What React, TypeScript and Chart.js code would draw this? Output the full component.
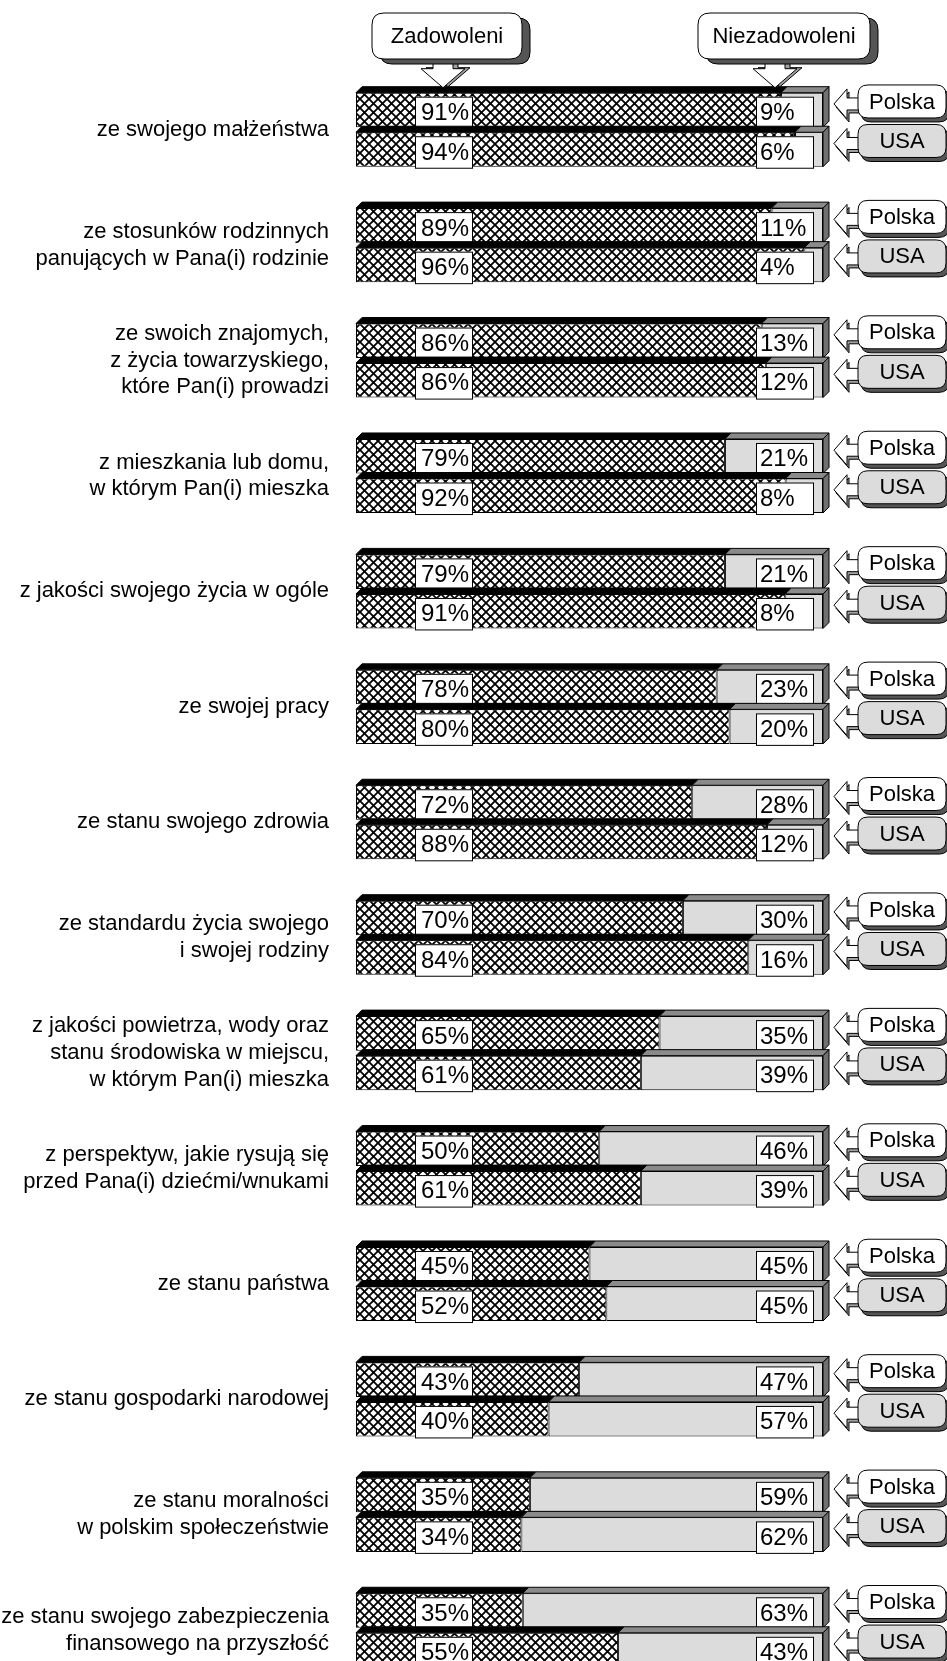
import { useEffect, useRef } from 'react';
import { Chart, registerables } from 'chart.js';

Chart.register(...registerables);

const categories: (string | string[])[] = [
  'ze swojego małżeństwa',
  ['ze stosunków rodzinnych', 'panujących w Pana(i) rodzinie'],
  ['ze swoich znajomych,', 'z życia towarzyskiego,', 'które Pan(i) prowadzi'],
  ['z mieszkania lub domu,', 'w którym Pan(i) mieszka'],
  'z jakości swojego życia w ogóle',
  'ze swojej pracy',
  'ze stanu swojego zdrowia',
  ['ze standardu życia swojego', 'i swojej rodziny'],
  ['z jakości powietrza, wody oraz', 'stanu środowiska w miejscu,', 'w którym Pan(i) mieszka'],
  ['z perspektyw, jakie rysują się', 'przed Pana(i) dziećmi/wnukami'],
  'ze stanu państwa',
  'ze stanu gospodarki narodowej',
  ['ze stanu moralności', 'w polskim społeczeństwie'],
  ['ze stanu swojego zabezpieczenia', 'finansowego na przyszłość'],
];

const plZadowoleni = [91, 89, 86, 79, 79, 78, 72, 70, 65, 50, 45, 43, 35, 35];
const plNiezadowoleni = [9, 11, 13, 21, 21, 23, 28, 30, 35, 46, 45, 47, 59, 63];
const usZadowoleni = [94, 96, 86, 92, 91, 80, 88, 84, 61, 61, 52, 40, 34, 55];
const usNiezadowoleni = [6, 4, 12, 8, 8, 20, 12, 16, 39, 39, 45, 57, 62, 43];

const countryNames = ['Polska', 'USA'];
const answerNames = ['Zadowoleni', 'Niezadowoleni'];

const FONT = '"Liberation Sans", Arial, sans-serif';

const share = (a: number, b: number) => (a / (a + b)) * 100;

function makePattern(): CanvasPattern | string {
  const c = document.createElement('canvas');
  const s = 9;
  c.width = s;
  c.height = s;
  const g = c.getContext('2d');
  if (!g) return '#999';
  g.fillStyle = '#fff';
  g.fillRect(0, 0, s, s);
  g.strokeStyle = '#000';
  g.lineWidth = 1.8;
  for (const k of [-s, 0, s]) {
    g.beginPath();
    g.moveTo(k, 0);
    g.lineTo(k + s, s);
    g.moveTo(k + s, 0);
    g.lineTo(k, s);
    g.stroke();
  }
  const p = g.createPattern(c, 'repeat');
  return p || '#999';
}

function roundRect(ctx: CanvasRenderingContext2D, x: number, y: number, w: number, h: number, r: number) {
  ctx.beginPath();
  ctx.moveTo(x + r, y);
  ctx.lineTo(x + w - r, y);
  ctx.quadraticCurveTo(x + w, y, x + w, y + r);
  ctx.lineTo(x + w, y + h - r);
  ctx.quadraticCurveTo(x + w, y + h, x + w - r, y + h);
  ctx.lineTo(x + r, y + h);
  ctx.quadraticCurveTo(x, y + h, x, y + h - r);
  ctx.lineTo(x, y + r);
  ctx.quadraticCurveTo(x, y, x + r, y);
  ctx.closePath();
}

function poly(ctx: CanvasRenderingContext2D, pts: number[][], fill: string) {
  ctx.beginPath();
  ctx.moveTo(pts[0][0], pts[0][1]);
  for (let i = 1; i < pts.length; i++) ctx.lineTo(pts[i][0], pts[i][1]);
  ctx.closePath();
  ctx.fillStyle = fill;
  ctx.fill();
  ctx.strokeStyle = '#000';
  ctx.lineWidth = 1;
  ctx.stroke();
}

function callout(ctx: CanvasRenderingContext2D, x: number, y: number, w: number, h: number, r: number, fill: string, text: string, sx: number, sy: number) {
  roundRect(ctx, x + sx, y + sy, w, h, r);
  ctx.fillStyle = '#555';
  ctx.fill();
  ctx.strokeStyle = '#000';
  ctx.lineWidth = 1;
  ctx.stroke();
  roundRect(ctx, x, y, w, h, r);
  ctx.fillStyle = fill;
  ctx.fill();
  ctx.stroke();
  ctx.fillStyle = '#000';
  ctx.font = `22px ${FONT}`;
  ctx.textAlign = 'center';
  ctx.textBaseline = 'middle';
  ctx.fillText(text, x + w / 2, y + h / 2 + 1);
}

function downArrow(ctx: CanvasRenderingContext2D, cx: number, top: number, tip: number) {
  const sw = 10, hw = 22, hh = 19;
  const shape = (dx: number, dy: number) => [
    [cx - sw + dx, top + dy], [cx + sw + dx, top + dy], [cx + sw + dx, tip - hh + dy], [cx + hw + dx, tip - hh + dy],
    [cx + dx, tip + dy], [cx - hw + dx, tip - hh + dy], [cx - sw + dx, tip - hh + dy],
  ];
  poly(ctx, shape(5, -1), '#a0a0a0');
  poly(ctx, shape(0, 0), '#fff');
}

function leftArrow(ctx: CanvasRenderingContext2D, tipX: number, cy: number, endX: number) {
  const sh = 6, hh = 15, hl = 13;
  const shape = (dx: number, dy: number) => [
    [tipX + dx, cy + dy], [tipX + hl + dx, cy - hh + dy], [tipX + hl + dx, cy - sh + dy], [endX + dx, cy - sh + dy],
    [endX + dx, cy + sh + dy], [tipX + hl + dx, cy + sh + dy], [tipX + hl + dx, cy + hh + dy],
  ];
  poly(ctx, shape(2, 3), '#a0a0a0');
  poly(ctx, shape(0, 0), '#fff');
}

const rawValues = [
  [plZadowoleni, plNiezadowoleni],
  [usZadowoleni, usNiezadowoleni],
];

const decorPlugin = {
  id: 'decor',
  afterDatasetsDraw(chart: any) {
    const ctx: CanvasRenderingContext2D = chart.ctx;
    const area = chart.chartArea;
    const D = 6;
    ctx.save();
    let firstTop = 0;
    for (let s = 0; s < 2; s++) {
      const zm = chart.getDatasetMeta(s * 2);
      const nm = chart.getDatasetMeta(s * 2 + 1);
      for (let i = 0; i < categories.length; i++) {
        const ez = zm.data[i];
        const en = nm.data[i];
        if (!ez || !en) continue;
        const left = ez.base;
        const mid = ez.x;
        const right = en.x;
        const top = ez.y - ez.height / 2;
        const bottom = ez.y + ez.height / 2;
        if (s === 0 && i === 0) firstTop = top - D;
        poly(ctx, [[left, top], [left + D, top - D], [mid + D, top - D], [mid, top]], '#000');
        poly(ctx, [[mid, top], [mid + D, top - D], [right + D, top - D], [right, top]], '#8a8a8a');
        poly(ctx, [[right, top], [right + D, top - D], [right + D, bottom - D], [right, bottom]], '#707070');
        ctx.font = `24px ${FONT}`;
        ctx.textBaseline = 'middle';
        ctx.textAlign = 'left';
        const bw = 57;
        const by = top + 4;
        const bh = bottom - top - 3;
        const lx = area.left + 59;
        ctx.fillStyle = '#fff';
        ctx.fillRect(lx, by, bw, bh);
        ctx.strokeStyle = '#000';
        ctx.lineWidth = 1;
        ctx.strokeRect(lx + 0.5, by + 0.5, bw, bh);
        ctx.fillStyle = '#000';
        ctx.fillText(`${rawValues[s][0][i]}%`, lx + 6, by + bh / 2 + 1);
        const rx = area.right - 10 - bw;
        ctx.fillStyle = '#fff';
        ctx.fillRect(rx, by, bw, bh);
        ctx.strokeRect(rx + 0.5, by + 0.5, bw, bh);
        ctx.fillStyle = '#000';
        ctx.fillText(`${rawValues[s][1][i]}%`, rx + 4, by + bh / 2 + 1);
        const cy = ez.y - 9;
        const boxX = area.right + 35;
        leftArrow(ctx, area.right + 11, cy + 3, boxX + 4);
        callout(ctx, boxX, cy - 16, 88, 33, 10, s === 0 ? '#fff' : '#dcdcdc', countryNames[s], 3, 4);
      }
    }
    const hy = 13, hh = 46;
    downArrow(ctx, area.left + 87, hy + hh, firstTop + 1);
    callout(ctx, area.left + 16, hy, 150, hh, 12, '#fff', answerNames[0], 8, 5);
    downArrow(ctx, area.right - 48, hy + hh, firstTop + 1);
    callout(ctx, area.right - 125, hy, 172, hh, 12, '#fff', answerNames[1], 8, 5);
    ctx.restore();
  },
};

export default function App() {
  const ref = useRef<HTMLCanvasElement | null>(null);
  useEffect(() => {
    if (!ref.current) return;
    const pattern = makePattern();
    const gray = '#dcdcdc';
    const chart = new Chart(ref.current, {
      type: 'bar',
      data: {
        labels: categories as any,
        datasets: [
          { label: 'Polska – Zadowoleni', data: plZadowoleni.map((v, i) => share(v, plNiezadowoleni[i])), stack: 'PL', backgroundColor: pattern as any },
          { label: 'Polska – Niezadowoleni', data: plNiezadowoleni.map((v, i) => share(v, plZadowoleni[i])), stack: 'PL', backgroundColor: gray },
          { label: 'USA – Zadowoleni', data: usZadowoleni.map((v, i) => share(v, usNiezadowoleni[i])), stack: 'US', backgroundColor: pattern as any },
          { label: 'USA – Niezadowoleni', data: usNiezadowoleni.map((v, i) => share(v, usZadowoleni[i])), stack: 'US', backgroundColor: gray },
        ].map((d) => ({
          ...d,
          borderColor: '#000',
          borderWidth: 1,
          borderSkipped: false as any,
          categoryPercentage: 0.685,
          barPercentage: 0.873,
        })),
      },
      options: {
        indexAxis: 'y',
        animation: false,
        responsive: true,
        maintainAspectRatio: false,
        layout: { padding: { left: 0, right: 124, top: 72, bottom: 12 } },
        plugins: { legend: { display: false }, tooltip: { enabled: false } },
        scales: {
          x: { stacked: true, min: 0, max: 100, display: false },
          y: {
            stacked: true,
            grid: { display: false, drawTicks: false },
            border: { display: false },
            ticks: { color: '#000', padding: 27, font: { family: FONT, size: 22, lineHeight: 1.22 } },
            afterFit: (scale: any) => {
              scale.width = 356;
              scale.paddingTop = 0;
              scale.paddingBottom = 0;
            },
          },
        },
      },
      plugins: [decorPlugin],
    });
    return () => chart.destroy();
  }, []);
  return (
    <div style={{ position: 'fixed', left: 0, top: 0, width: 947, height: 1661, overflow: 'hidden', background: '#fff' }}>
      <div style={{ position: 'relative', width: 947, height: 1700 }}>
        <canvas ref={ref} />
      </div>
    </div>
  );
}
